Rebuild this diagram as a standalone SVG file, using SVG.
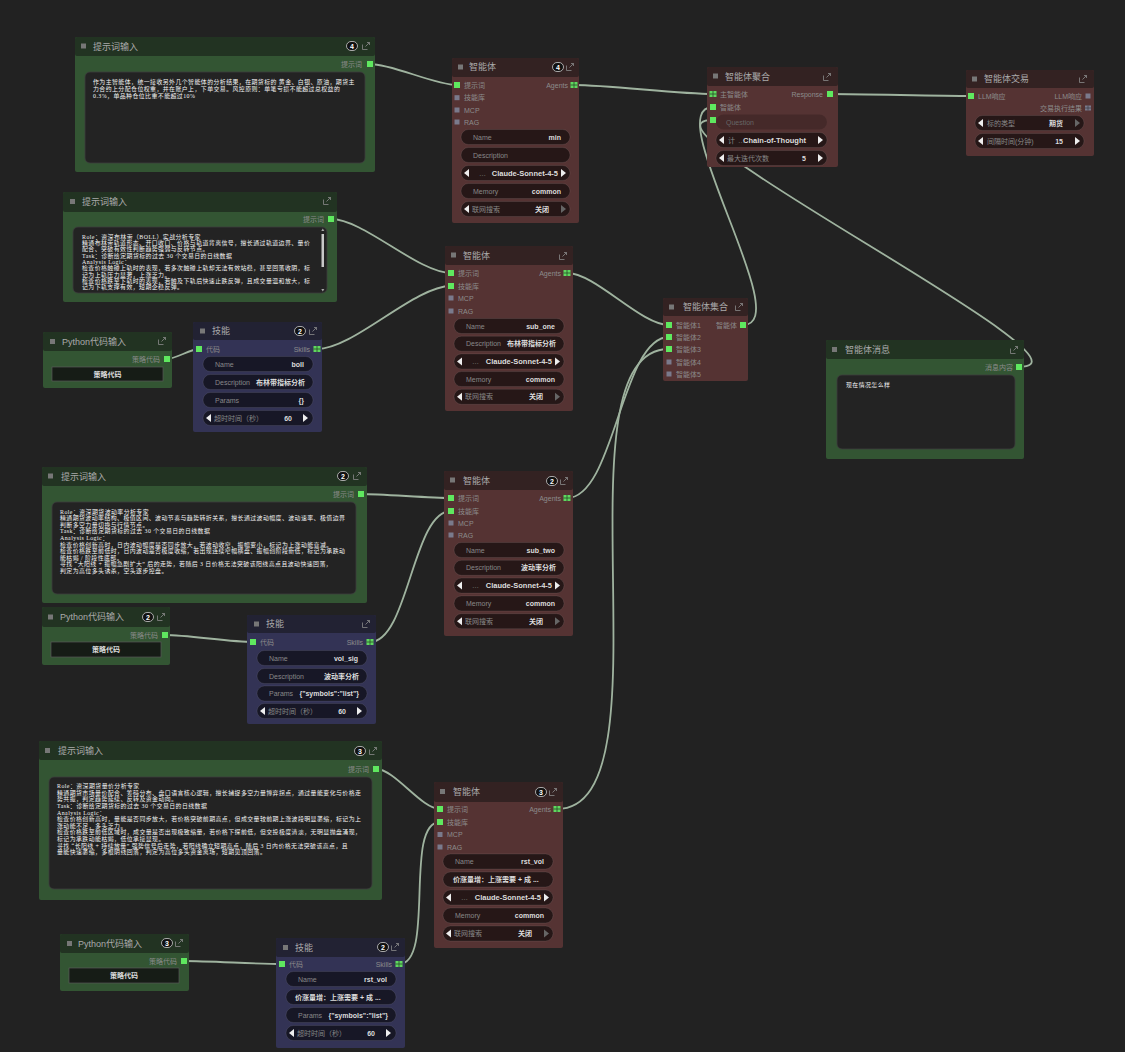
<svg xmlns="http://www.w3.org/2000/svg" xmlns:xlink="http://www.w3.org/1999/xlink" width="1125" height="1052" viewBox="0 0 1125 1052">
<style>
.gh{fill:#223322}.gb{fill:#335533}
.rh{fill:#332222}.rb{fill:#553333}
.bh{fill:#222233}.bb{fill:#333355}
.cs{fill:#777}
.ta{fill:#232323;stroke:#3e3e3e;stroke-width:.8}
.w{fill:#000;fill-opacity:.55;stroke:#fff;stroke-opacity:.12;stroke-width:.7}
.wq{fill:#000;fill-opacity:.18}
.btn{fill:#161c16;stroke:#585858;stroke-width:.7}
.bdg{fill:#111;stroke:#ccc;stroke-width:.8}
text{font-family:"Liberation Sans","Noto Sans CJK SC",sans-serif}
.t{font-size:9px;fill:#aaa}
.sl{font-size:7px;fill:#8c8c8c}
.sr{font-size:7px;fill:#8c8c8c;text-anchor:end}
.wl{font-size:7px;fill:#888}
.wp{font-size:7px;fill:#666}
.wv{font-size:7px;fill:#ddd;font-weight:bold;text-anchor:end}
.wm{font-size:7.5px;fill:#ddd;font-weight:bold;text-anchor:end}
.wb{font-size:7px;fill:#ddd;font-weight:bold}
.wc{font-size:7px;fill:#ddd;font-weight:bold;text-anchor:middle}
.tx{font-family:"Liberation Serif","Noto Sans CJK SC",serif;font-size:5.9px;letter-spacing:.45px;fill:#f4f4f4}
.bn{font-size:7px;fill:#fff;font-weight:bold;text-anchor:middle}
.lk{fill:none;stroke:#9fb39f;stroke-width:1.8}
</style>
<defs>
<path id="ic" d="M-3.5,-1.5V3.5H1.5M-0.5,0.5L3.5,-3.5M1,-3.5H3.5V-1" fill="none" stroke="#8a8a8a" stroke-width="0.8"/>
<rect id="pg" x="-3" y="-3" width="6" height="6" fill="#5fe85f"/>
<rect id="px" x="-2.5" y="-2.5" width="5" height="5" fill="#7a7a8c"/>
<g id="pgg"><rect x="-3.5" y="-3" width="7" height="6" fill="#5fd85f"/><path d="M-3.5,0H3.5M0,-3V3" stroke="#2a4a2a" stroke-width="0.8"/></g>
<g id="pxg"><rect x="-3" y="-2.5" width="6" height="5" fill="#7a7a8c"/><path d="M-3,0H3M0,-2.5V2.5" stroke="#3a3a44" stroke-width="0.7"/></g>
<polygon id="al" points="0,0 5,-4 5,4" fill="#eee"/>
<polygon id="ar" points="0,-4 5,0 0,4" fill="#eee"/>
<polygon id="ard" points="0,-4 5,0 0,4" fill="#666"/>
</defs>
<rect width="1125" height="1052" fill="#222"/>

<g id="connectors">
<path class="lk" d="M370,64 C392.4,64 434.6,85 457,85"/>
<path class="lk" d="M574,85 C608.8,85 678.2,94 713,94"/>
<path class="lk" d="M830,94 C865.3,94 935.7,96 971,96"/>
<path class="lk" d="M567,273 C595.6,273 640.4,325 669,325"/>
<path class="lk" d="M743,325 C798,325 658,107 713,107"/>
<path class="lk" d="M1019,367 C1117,367 615,120 713,120"/>
<path class="lk" d="M331,219 C363.9,219 418.1,273 451,273"/>
<path class="lk" d="M167,359 C175.4,359 190.6,349 199,349"/>
<path class="lk" d="M317,349 C354,349 414,286 451,286"/>
<path class="lk" d="M361,494 C383.5,494 428.5,498 451,498"/>
<path class="lk" d="M165,635 C187.1,635 230.9,642 253,642"/>
<path class="lk" d="M370,642 C408.5,642 412.5,511 451,511"/>
<path class="lk" d="M567,498 C614.6,498 621.4,337 669,337"/>
<path class="lk" d="M376,769 C394.9,769 421.1,809 440,809"/>
<path class="lk" d="M184,961 C208.5,961 257.5,964 282,964"/>
<path class="lk" d="M399,964 C435.7,964 403.3,822 440,822"/>
<path class="lk" d="M557,809 C675.4,809 550.6,349 669,349"/>
</g>

<g id="prompt1">
<rect x="75" y="37" width="300" height="135" rx="2" class="gb"/>
<rect x="75" y="37" width="300" height="19" rx="2" class="gh"/>
<rect x="81" y="43.5" width="5" height="5" class="cs"/>
<text x="93" y="49.5" class="t">提示词输入</text>
<rect x="346.5" y="41.5" width="11" height="9" rx="4.5" class="bdg"/>
<text x="352" y="48.5" class="bn">4</text>
<use href="#ic" x="366" y="46"/>
<text x="362" y="66.5" class="sr">提示词</text>
<use href="#pg" x="370" y="64"/>
<rect x="85" y="72" width="280" height="91" rx="5" class="ta"/>
<text class="tx"><tspan x="93" y="84">作为主智能体，统一接收另外几个智能体的分析结果，在期货标的 黄金、白银、原油，期货主</tspan><tspan x="93" y="90.8">力合约上分配仓位权重，并在账户上，下单交易。风控原则：单笔亏损不能超过总权益的</tspan><tspan x="93" y="97.6">0.3%，单品种仓位比重不能超过10%</tspan></text>
</g>

<g id="prompt2">
<rect x="63" y="192" width="274" height="110" rx="2" class="gb"/>
<rect x="63" y="192" width="274" height="20" rx="2" class="gh"/>
<rect x="70" y="199" width="5" height="5" class="cs"/>
<text x="82" y="205.3" class="t">提示词输入</text>
<use href="#ic" x="327" y="201"/>
<text x="324" y="221.5" class="sr">提示词</text>
<use href="#pg" x="331" y="219"/>
<rect x="73" y="227" width="254" height="66" rx="5" class="ta"/>
<rect x="321.5" y="234" width="2.5" height="33" fill="#c8c8c8"/>
<polygon points="321.3,231 324.3,231 322.8,228.5" fill="#aaa"/>
<polygon points="321.3,289 324.3,289 322.8,291.5" fill="#aaa"/>
<text class="tx"><tspan x="82" y="238.5">Role：资深布林带（BOLL）实战分析专家</tspan><tspan x="82" y="244.85">精通布林带轨道形态、开口收口、价格与轨道背离信号，擅长通过轨道边界、量价</tspan><tspan x="82" y="251.2">配合、突破有效性判断趋势强弱与反转节点。</tspan><tspan x="82" y="257.55">Task：诊断给定期货标的过去 30 个交易日的日线数据</tspan><tspan x="82" y="263.9">Analysis Logic：</tspan><tspan x="82" y="270.25">检查价格触碰上轨时的表现，若多次触碰上轨却无法有效站稳，甚至回落收阴，标</tspan><tspan x="82" y="276.6">记为上轨压力显著，上涨乏力。</tspan><tspan x="82" y="282.95">检查价格跌至下轨时的表现，若触及下轨后快速止跌反弹，且成交量温和放大，标</tspan><tspan x="82" y="289.3">记为下轨支撑有效，短期企稳反弹。</tspan></text>
</g>

<g id="python1">
<rect x="43" y="332" width="129" height="56" rx="2" class="gb"/>
<rect x="43" y="332" width="129" height="19" rx="2" class="gh"/>
<rect x="50" y="339" width="5" height="5" class="cs"/>
<text x="62" y="345.3" class="t">Python代码输入</text>
<use href="#ic" x="162" y="341"/>
<text x="160" y="361.5" class="sr">策略代码</text>
<use href="#pg" x="167" y="359"/>
<rect x="52" y="367" width="111" height="14" class="btn"/>
<text x="107.5" y="376.5" class="wc">策略代码</text>
</g>

<g id="skill1">
<rect x="193" y="322" width="129" height="110" rx="2" class="bb"/>
<rect x="193" y="322" width="129" height="18" rx="2" class="bh"/>
<rect x="200" y="328.5" width="5" height="5" class="cs"/>
<text x="212" y="334.3" class="t">技能</text>
<rect x="294.5" y="326.5" width="11" height="9" rx="4.5" class="bdg"/>
<text x="300" y="333.5" class="bn">2</text>
<use href="#ic" x="313" y="331"/>
<use href="#pg" x="199" y="349"/>
<text x="206" y="351.5" class="sl">代码</text>
<text x="310" y="351.5" class="sr">Skills</text>
<use href="#pgg" x="317" y="349"/>
<rect x="203" y="356.5" width="110" height="15" rx="7.5" class="w"/>
<text x="215" y="366.5" class="wl">Name</text><text x="304" y="366.5" class="wv">boll</text>
<rect x="203" y="374.5" width="110" height="15" rx="7.5" class="w"/>
<text x="215" y="384.5" class="wl">Description</text><text x="305" y="384.5" class="wv">布林带指标分析</text>
<rect x="203" y="392.5" width="110" height="15" rx="7.5" class="w"/>
<text x="215" y="402.5" class="wl">Params</text><text x="304" y="402.5" class="wv">{}</text>
<rect x="203" y="410.5" width="110" height="15" rx="7.5" class="w"/>
<use href="#al" x="206" y="418"/>
<text x="214" y="420.5" class="wl">超时时间（秒）</text><text x="292" y="420.5" class="wv">60</text>
<use href="#ar" x="303" y="418"/>
</g>

<g id="prompt3">
<rect x="42" y="467" width="325" height="136" rx="2" class="gb"/>
<rect x="42" y="467" width="325" height="19" rx="2" class="gh"/>
<rect x="48" y="473.5" width="5" height="5" class="cs"/>
<text x="61" y="479.5" class="t">提示词输入</text>
<rect x="337.5" y="471.5" width="11" height="9" rx="4.5" class="bdg"/>
<text x="343" y="478.5" class="bn">2</text>
<use href="#ic" x="357" y="476"/>
<text x="354" y="496.5" class="sr">提示词</text>
<use href="#pg" x="361" y="494"/>
<rect x="52" y="502" width="304" height="92" rx="5" class="ta"/>
<text class="tx"><tspan x="60" y="513.5">Role：资深期货波动率分析专家</tspan><tspan x="60" y="520.1">精通期货波动率结构、极值区间、波动节奏与趋势转折关系，擅长通过波动幅度、波动速率、极值边界</tspan><tspan x="60" y="526.7">判断多空力量切换与行情节点。</tspan><tspan x="60" y="533.3">Task：诊断给定期货标的过去 30 个交易日的日线数据</tspan><tspan x="60" y="539.9">Analysis Logic：</tspan><tspan x="60" y="546.5">检查价格创新高时，日内波动幅度是否同步放大，若波动收窄、振幅变小，标记为上涨动能衰减。</tspan><tspan x="60" y="553.1">检查价格跌至前低时，日内波动是否极度收缩，若出现连续窄幅横盘、振幅创阶段新低，标记为承跌动</tspan><tspan x="60" y="559.7">能枯竭 / 阶段性底部。</tspan><tspan x="60" y="566.3">寻找 “大阳线 + 振幅急剧扩大” 后的走势，若随后 3 日价格无法突破该阳线高点且波动快速回落，</tspan><tspan x="60" y="572.9">判定为高位多头诱杀，空头逐步控盘。</tspan></text>
</g>

<g id="python2">
<rect x="42" y="607" width="128" height="58" rx="2" class="gb"/>
<rect x="42" y="607" width="128" height="20" rx="2" class="gh"/>
<rect x="48" y="614.5" width="5" height="5" class="cs"/>
<text x="60" y="620.3" class="t">Python代码输入</text>
<rect x="142.5" y="612.5" width="11" height="9" rx="4.5" class="bdg"/>
<text x="148" y="619.5" class="bn">2</text>
<use href="#ic" x="161" y="617"/>
<text x="158" y="637.5" class="sr">策略代码</text>
<use href="#pg" x="165" y="635"/>
<rect x="51" y="642" width="110" height="15" class="btn"/>
<text x="106" y="652" class="wc">策略代码</text>
</g>

<g id="skill2">
<rect x="247" y="615" width="129" height="109" rx="2" class="bb"/>
<rect x="247" y="615" width="129" height="18" rx="2" class="bh"/>
<rect x="254" y="621.5" width="5" height="5" class="cs"/>
<text x="266" y="627.3" class="t">技能</text>
<use href="#ic" x="366" y="624"/>
<use href="#pg" x="253" y="642"/>
<text x="260" y="644.5" class="sl">代码</text>
<text x="363" y="644.5" class="sr">Skills</text>
<use href="#pgg" x="370" y="642"/>
<rect x="257" y="650.5" width="110" height="15" rx="7.5" class="w"/>
<text x="269" y="660.5" class="wl">Name</text><text x="358" y="660.5" class="wv">vol_sig</text>
<rect x="257" y="668.5" width="110" height="15" rx="7.5" class="w"/>
<text x="269" y="678.5" class="wl">Description</text><text x="359" y="678.5" class="wv">波动率分析</text>
<rect x="257" y="686" width="110" height="15" rx="7.5" class="w"/>
<text x="269" y="696" class="wl">Params</text><text x="359" y="696" class="wv">{"symbols":"list"}</text>
<rect x="257" y="703.5" width="110" height="15" rx="7.5" class="w"/>
<use href="#al" x="260" y="711"/>
<text x="268" y="713.5" class="wl">超时时间（秒）</text><text x="346" y="713.5" class="wv">60</text>
<use href="#ar" x="357" y="711"/>
</g>

<g id="prompt4">
<rect x="39" y="741" width="343" height="159" rx="2" class="gb"/>
<rect x="39" y="741" width="343" height="19" rx="2" class="gh"/>
<rect x="45" y="748" width="5" height="5" class="cs"/>
<text x="58" y="754.3" class="t">提示词输入</text>
<rect x="354.5" y="746.5" width="11" height="9" rx="4.5" class="bdg"/>
<text x="360" y="753.5" class="bn">3</text>
<use href="#ic" x="373" y="751"/>
<text x="369" y="771.5" class="sr">提示词</text>
<use href="#pg" x="376" y="769"/>
<rect x="49" y="777" width="323" height="112" rx="5" class="ta"/>
<text class="tx"><tspan x="57" y="788.2">Role：资深期货量价分析专家</tspan><tspan x="57" y="794.8">精通期货市场量价配合、筹码分布、盘口语言核心逻辑，擅长捕捉多空力量博弈拐点，通过量能变化与价格走</tspan><tspan x="57" y="801.4">势共振，判定趋势延续、反转及资金动向。</tspan><tspan x="57" y="808">Task：诊断给定期货标的过去 30 个交易日的日线数据</tspan><tspan x="57" y="814.6">Analysis Logic：</tspan><tspan x="57" y="821.2">检查价格创新高时，量能是否同步放大，若价格突破前期高点，但成交量较前期上涨波段明显萎缩，标记为上</tspan><tspan x="57" y="827.8">涨动能不足，多头乏力。</tspan><tspan x="57" y="834.4">检查价格跌至前低区域时，成交量是否出现极致缩量，若价格下探前低，但交投极度清淡，无明显抛盘涌现，</tspan><tspan x="57" y="841">标记为承跌动能枯竭，低位承接显现。</tspan><tspan x="57" y="847.6">寻找 “长阳线 + 持续放量” 强势信号后走势，若阳线确立短期高点，随后 3 日内价格无法突破该高点，且</tspan><tspan x="57" y="854.2">量能快速萎缩，多根阴线回落，判定为高位多头资金离场，短期见顶回落。</tspan></text>
</g>

<g id="python3">
<rect x="60" y="934" width="129" height="57" rx="2" class="gb"/>
<rect x="60" y="934" width="129" height="19" rx="2" class="gh"/>
<rect x="67" y="941" width="5" height="5" class="cs"/>
<text x="78" y="946.5" class="t">Python代码输入</text>
<rect x="161.5" y="938.5" width="11" height="9" rx="4.5" class="bdg"/>
<text x="167" y="945.5" class="bn">3</text>
<use href="#ic" x="179" y="943"/>
<text x="177" y="963.5" class="sr">策略代码</text>
<use href="#pg" x="184" y="961"/>
<rect x="69" y="968" width="110" height="15" class="btn"/>
<text x="124" y="978" class="wc">策略代码</text>
</g>

<g id="skill3">
<rect x="276" y="938" width="129" height="110" rx="2" class="bb"/>
<rect x="276" y="938" width="129" height="19" rx="2" class="bh"/>
<rect x="283" y="945" width="5" height="5" class="cs"/>
<text x="295" y="950.5" class="t">技能</text>
<rect x="377.5" y="942.5" width="11" height="9" rx="4.5" class="bdg"/>
<text x="383" y="949.5" class="bn">2</text>
<use href="#ic" x="395" y="947"/>
<use href="#pg" x="282" y="964"/>
<text x="289" y="966.5" class="sl">代码</text>
<text x="392" y="966.5" class="sr">Skills</text>
<use href="#pgg" x="399" y="964"/>
<rect x="286" y="971.5" width="110" height="15" rx="7.5" class="w"/>
<text x="298" y="981.5" class="wl">Name</text><text x="387" y="981.5" class="wv">rst_vol</text>
<rect x="286" y="989.5" width="110" height="15" rx="7.5" class="w"/>
<text x="295" y="999.5" class="wb">价涨量增：上涨需要 + 成  ...</text>
<rect x="286" y="1007.5" width="110" height="15" rx="7.5" class="w"/>
<text x="298" y="1017.5" class="wl">Params</text><text x="388" y="1017.5" class="wv">{"symbols":"list"}</text>
<rect x="286" y="1025.5" width="110" height="15" rx="7.5" class="w"/>
<use href="#al" x="289" y="1033"/>
<text x="297" y="1035.5" class="wl">超时时间（秒）</text><text x="375" y="1035.5" class="wv">60</text>
<use href="#ar" x="386" y="1033"/>
</g>

<g id="agent1">
<rect x="452" y="58" width="127" height="165" rx="2" class="rb"/>
<rect x="452" y="58" width="127" height="19" rx="2" class="rh"/>
<rect x="458" y="64.5" width="5" height="5" class="cs"/>
<text x="469" y="70.3" class="t">智能体</text>
<rect x="552.5" y="62.5" width="11" height="9" rx="4.5" class="bdg"/>
<text x="558" y="69.5" class="bn">4</text>
<use href="#ic" x="570" y="67"/>
<use href="#pg" x="457" y="85"/><text x="464" y="87.5" class="sl">提示词</text>
<use href="#px" x="457" y="97.7"/><text x="464" y="100.2" class="sl">技能库</text>
<use href="#px" x="457" y="110"/><text x="464" y="112.5" class="sl">MCP</text>
<use href="#px" x="457" y="122"/><text x="464" y="124.5" class="sl">RAG</text>
<text x="568" y="87.5" class="sr">Agents</text><use href="#pgg" x="574" y="85"/>
<rect x="461" y="129.5" width="109" height="15" rx="7.5" class="w"/>
<text x="473" y="139.5" class="wl">Name</text><text x="561" y="139.5" class="wv">min</text>
<rect x="461" y="147.5" width="109" height="15" rx="7.5" class="w"/>
<text x="473" y="157.5" class="wl">Description</text>
<rect x="461" y="165.5" width="109" height="15" rx="7.5" class="w"/>
<use href="#al" x="464" y="173"/><text x="479" y="175.5" class="wl">…</text><text x="558" y="175.8" class="wm">Claude-Sonnet-4-5</text><use href="#ar" x="561" y="173"/>
<rect x="461" y="183.5" width="109" height="15" rx="7.5" class="w"/>
<text x="473" y="193.5" class="wl">Memory</text><text x="561" y="193.5" class="wv">common</text>
<rect x="461" y="201.5" width="109" height="15" rx="7.5" class="w"/>
<use href="#al" x="464" y="209"/><text x="472" y="211.5" class="wl">联网搜索</text><text x="549" y="211.5" class="wv">关闭</text><use href="#ard" x="561" y="209"/>
</g>

<g id="agent2">
<rect x="445" y="246" width="128" height="165" rx="2" class="rb"/>
<rect x="445" y="246" width="128" height="19" rx="2" class="rh"/>
<rect x="451" y="252.5" width="5" height="5" class="cs"/>
<text x="463" y="259.3" class="t">智能体</text>
<use href="#ic" x="563" y="256"/>
<use href="#pg" x="451" y="273"/><text x="458" y="275.5" class="sl">提示词</text>
<use href="#pg" x="451" y="286"/><text x="458" y="288.5" class="sl">技能库</text>
<use href="#px" x="451" y="298"/><text x="458" y="300.5" class="sl">MCP</text>
<use href="#px" x="451" y="311"/><text x="458" y="313.5" class="sl">RAG</text>
<text x="561" y="275.5" class="sr">Agents</text><use href="#pgg" x="567" y="273"/>
<rect x="454" y="318.5" width="110" height="15" rx="7.5" class="w"/>
<text x="466" y="328.5" class="wl">Name</text><text x="555" y="328.5" class="wv">sub_one</text>
<rect x="454" y="336.2" width="110" height="15" rx="7.5" class="w"/>
<text x="466" y="346.2" class="wl">Description</text><text x="556" y="346.2" class="wv">布林带指标分析</text>
<rect x="454" y="353.9" width="110" height="15" rx="7.5" class="w"/>
<use href="#al" x="457" y="361.4"/><text x="472" y="363.9" class="wl">…</text><text x="552" y="364.2" class="wm">Claude-Sonnet-4-5</text><use href="#ar" x="555" y="361.4"/>
<rect x="454" y="371.6" width="110" height="15" rx="7.5" class="w"/>
<text x="466" y="381.6" class="wl">Memory</text><text x="555" y="381.6" class="wv">common</text>
<rect x="454" y="389.3" width="110" height="15" rx="7.5" class="w"/>
<use href="#al" x="457" y="396.8"/><text x="465" y="399.3" class="wl">联网搜索</text><text x="543" y="399.3" class="wv">关闭</text><use href="#ard" x="555" y="396.8"/>
</g>

<g id="agent3">
<rect x="444" y="471" width="129" height="165" rx="2" class="rb"/>
<rect x="444" y="471" width="129" height="19" rx="2" class="rh"/>
<rect x="450" y="477.5" width="5" height="5" class="cs"/>
<text x="463" y="484.3" class="t">智能体</text>
<rect x="546.5" y="476.5" width="11" height="9" rx="4.5" class="bdg"/>
<text x="552" y="483.5" class="bn">2</text>
<use href="#ic" x="564" y="481"/>
<use href="#pg" x="451" y="498"/><text x="458" y="500.5" class="sl">提示词</text>
<use href="#pg" x="451" y="511"/><text x="458" y="513.5" class="sl">技能库</text>
<use href="#px" x="451" y="523"/><text x="458" y="525.5" class="sl">MCP</text>
<use href="#px" x="451" y="535"/><text x="458" y="537.5" class="sl">RAG</text>
<text x="561" y="500.5" class="sr">Agents</text><use href="#pgg" x="567" y="498"/>
<rect x="454" y="542.5" width="110" height="15" rx="7.5" class="w"/>
<text x="466" y="552.5" class="wl">Name</text><text x="555" y="552.5" class="wv">sub_two</text>
<rect x="454" y="560.3" width="110" height="15" rx="7.5" class="w"/>
<text x="466" y="570.3" class="wl">Description</text><text x="556" y="570.3" class="wv">波动率分析</text>
<rect x="454" y="578.1" width="110" height="15" rx="7.5" class="w"/>
<use href="#al" x="457" y="585.6"/><text x="472" y="588.1" class="wl">…</text><text x="552" y="588.4" class="wm">Claude-Sonnet-4-5</text><use href="#ar" x="555" y="585.6"/>
<rect x="454" y="595.9" width="110" height="15" rx="7.5" class="w"/>
<text x="466" y="605.9" class="wl">Memory</text><text x="555" y="605.9" class="wv">common</text>
<rect x="454" y="613.7" width="110" height="15" rx="7.5" class="w"/>
<use href="#al" x="457" y="621.2"/><text x="465" y="623.7" class="wl">联网搜索</text><text x="543" y="623.7" class="wv">关闭</text><use href="#ard" x="555" y="621.2"/>
</g>

<g id="agent4">
<rect x="434" y="782" width="129" height="166" rx="2" class="rb"/>
<rect x="434" y="782" width="129" height="20" rx="2" class="rh"/>
<rect x="440" y="789" width="5" height="5" class="cs"/>
<text x="453" y="795.3" class="t">智能体</text>
<rect x="535.5" y="787.5" width="11" height="9" rx="4.5" class="bdg"/>
<text x="541" y="794.5" class="bn">3</text>
<use href="#ic" x="553" y="792"/>
<use href="#pg" x="440" y="809"/><text x="447" y="811.5" class="sl">提示词</text>
<use href="#pg" x="440" y="822"/><text x="447" y="824.5" class="sl">技能库</text>
<use href="#px" x="440" y="834.5"/><text x="447" y="837" class="sl">MCP</text>
<use href="#px" x="440" y="847"/><text x="447" y="849.5" class="sl">RAG</text>
<text x="551" y="811.5" class="sr">Agents</text><use href="#pgg" x="557" y="809"/>
<rect x="443" y="854" width="110" height="15" rx="7.5" class="w"/>
<text x="455" y="864" class="wl">Name</text><text x="544" y="864" class="wv">rst_vol</text>
<rect x="443" y="872" width="110" height="15" rx="7.5" class="w"/>
<text x="453" y="882" class="wb">价涨量增：上涨需要 + 成  ...</text>
<rect x="443" y="890" width="110" height="15" rx="7.5" class="w"/>
<use href="#al" x="446" y="897.5"/><text x="461" y="900" class="wl">…</text><text x="541" y="900.3" class="wm">Claude-Sonnet-4-5</text><use href="#ar" x="544" y="897.5"/>
<rect x="443" y="908" width="110" height="15" rx="7.5" class="w"/>
<text x="455" y="918" class="wl">Memory</text><text x="544" y="918" class="wv">common</text>
<rect x="443" y="926" width="110" height="15" rx="7.5" class="w"/>
<use href="#al" x="446" y="933.5"/><text x="454" y="936" class="wl">联网搜索</text><text x="532" y="936" class="wv">关闭</text><use href="#ard" x="544" y="933.5"/>
</g>

<g id="aggregate">
<rect x="707" y="67" width="131" height="100" rx="2" class="rb"/>
<rect x="707" y="67" width="131" height="19" rx="2" class="rh"/>
<rect x="713" y="73.5" width="5" height="5" class="cs"/>
<text x="725" y="80.3" class="t">智能体聚合</text>
<use href="#ic" x="827" y="77"/>
<use href="#pgg" x="713" y="94"/><text x="720" y="96.5" class="sl">主智能体</text>
<use href="#pg" x="713" y="107"/><text x="720" y="109.5" class="sl">智能体</text>
<use href="#pg" x="713" y="120"/>
<text x="823" y="96.5" class="sr">Response</text><use href="#pg" x="830" y="94"/>
<rect x="716" y="114.5" width="111" height="15" rx="7.5" class="wq"/>
<text x="726" y="124.5" class="wp">Question</text>
<rect x="716" y="132.5" width="111" height="15" rx="7.5" class="w"/>
<use href="#al" x="719" y="140"/><text x="728" y="142.5" class="wl">计</text><text x="738" y="142.5" class="wl">…</text><text x="806" y="142.8" class="wm">Chain-of-Thought</text><use href="#ar" x="818" y="140"/>
<rect x="716" y="150.5" width="111" height="15" rx="7.5" class="w"/>
<use href="#al" x="719" y="158"/><text x="727" y="160.5" class="wl">最大迭代次数</text><text x="806" y="160.5" class="wv">5</text><use href="#ar" x="818" y="158"/>
</g>

<g id="trade">
<rect x="966" y="70" width="128" height="86" rx="2" class="rb"/>
<rect x="966" y="70" width="128" height="18" rx="2" class="rh"/>
<rect x="972" y="76.5" width="5" height="5" class="cs"/>
<text x="984" y="82.3" class="t">智能体交易</text>
<use href="#ic" x="1083" y="79"/>
<use href="#pg" x="971" y="96"/><text x="978" y="98.5" class="sl">LLM响应</text>
<text x="1082" y="98.5" class="sr">LLM响应</text><use href="#px" x="1088" y="96"/>
<text x="1082" y="110.5" class="sr">交易执行结果</text><use href="#pxg" x="1088" y="108"/>
<rect x="975" y="115.5" width="109" height="15" rx="7.5" class="w"/>
<use href="#al" x="978" y="123"/><text x="987" y="125.5" class="wl">标的类型</text><text x="1063" y="125.5" class="wv">期货</text><use href="#ard" x="1075" y="123"/>
<rect x="975" y="133.5" width="109" height="15" rx="7.5" class="w"/>
<use href="#al" x="978" y="141"/><text x="987" y="143.5" class="wl">间隔时间(分钟)</text><text x="1063" y="143.5" class="wv">15</text><use href="#ar" x="1075" y="141"/>
</g>

<g id="collect">
<rect x="663" y="298" width="85" height="83" rx="2" class="rb"/>
<rect x="663" y="298" width="85" height="18" rx="2" class="rh"/>
<rect x="669" y="304.5" width="5" height="5" class="cs"/>
<text x="683" y="310.3" class="t">智能体集合</text>
<use href="#ic" x="739" y="307"/>
<use href="#pg" x="669" y="325"/><text x="676" y="327.5" class="sl">智能体1</text>
<use href="#pg" x="669" y="337"/><text x="676" y="339.5" class="sl">智能体2</text>
<use href="#pg" x="669" y="349"/><text x="676" y="351.5" class="sl">智能体3</text>
<use href="#px" x="669" y="362"/><text x="676" y="364.5" class="sl">智能体4</text>
<use href="#px" x="669" y="374"/><text x="676" y="376.5" class="sl">智能体5</text>
<text x="737" y="327.5" class="sr">智能体</text><use href="#pg" x="743" y="325"/>
</g>

<g id="message">
<rect x="826" y="340" width="198" height="119" rx="2" class="gb"/>
<rect x="826" y="340" width="198" height="19" rx="2" class="gh"/>
<rect x="832" y="347" width="5" height="5" class="cs"/>
<text x="845" y="353.3" class="t">智能体消息</text>
<use href="#ic" x="1014" y="350"/>
<text x="1013" y="369.5" class="sr">消息内容</text><use href="#pg" x="1019" y="367"/>
<rect x="837" y="375" width="178" height="74" rx="5" class="ta"/>
<text x="846" y="387" class="tx">现在情况怎么样</text>
</g>
</svg>
